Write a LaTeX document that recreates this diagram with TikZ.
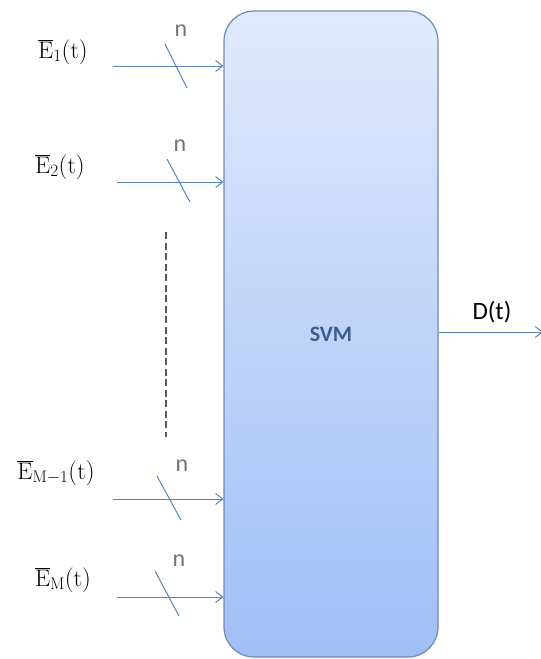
\documentclass[tikz,border=0pt]{standalone}
\usepackage{fontspec}
\setsansfont{Carlito}
\usetikzlibrary{arrows.meta}
\definecolor{wireblue}{RGB}{88,132,188}
\definecolor{boxtop}{RGB}{224,234,252}
\definecolor{boxbottom}{RGB}{160,190,246}
\definecolor{boxedge}{RGB}{112,138,180}
\definecolor{svmtext}{RGB}{62,92,140}
\definecolor{ngray}{RGB}{115,115,115}
\begin{document}
\begin{tikzpicture}[x=1pt, y=-1pt,
    every node/.style={font=\sffamily\fontsize{25}{30}\selectfont},
    wire/.style={wireblue, line width=1pt, -{Straight Barb[length=7pt, width=11pt]}},
    tick/.style={wireblue, line width=1pt},
    widthlabel/.style={text=ngray, font=\sffamily\fontsize{24}{28}\selectfont},
    inlabel/.style={font=\fontsize{24}{28}\selectfont}]
  \useasboundingbox (0,0) rectangle (541,659);

  % SVM block
  \node[draw=boxedge, line width=1.2pt, rounded corners=30pt,
        top color=boxtop, bottom color=boxbottom,
        minimum width=214pt, minimum height=646pt, inner sep=0pt,
        font=\sffamily\bfseries\fontsize{22}{26}\selectfont, text=svmtext] (svm) at (331,334) {SVM};

  % Input 1
  \coordinate (in1) at (113,66);
  \draw[wire] (in1) -- (in1 -| svm.west);
  \draw[tick] (165,44) -- (187,88);
  \node[widthlabel] (n1) at (181,31) {n};
  \node[inlabel] (e1) at (63,52) {$\overline{\mathrm{E}}_{1}(\mathrm{t})$};

  % Input 2
  \coordinate (in2) at (117,182);
  \draw[wire] (in2) -- (in2 -| svm.west);
  \draw[tick] (167,159) -- (190,202);
  \node[widthlabel] (n2) at (180,146) {n};
  \node[inlabel] (e2) at (60,167) {$\overline{\mathrm{E}}_{2}(\mathrm{t})$};

  % Dots between the inputs
  \draw[black!65, line width=1.1pt, dash pattern=on 7pt off 3.5pt] (166,232) -- (166,437);

  % Input M-1
  \coordinate (inm1) at (113,499);
  \draw[wire] (inm1) -- (inm1 -| svm.west);
  \draw[tick] (157,476) -- (181,520);
  \node[widthlabel] (n3) at (182,466) {n};
  \node[inlabel] (e3) at (56,473) {$\overline{\mathrm{E}}_{\mathrm{M-1}}(\mathrm{t})$};

  % Input M
  \coordinate (inm) at (117,597);
  \draw[wire] (inm) -- (inm -| svm.west);
  \draw[tick] (155,571) -- (179,616);
  \node[widthlabel] (n4) at (179,561) {n};
  \node[inlabel] (e4) at (63,580) {$\overline{\mathrm{E}}_{\mathrm{M}}(\mathrm{t})$};

  % Output
  \coordinate (out) at (543,332);
  \draw[wire] (svm.east |- out) -- (out);
  \node (d) at (492,312) {D(t)};
\end{tikzpicture}
\end{document}
